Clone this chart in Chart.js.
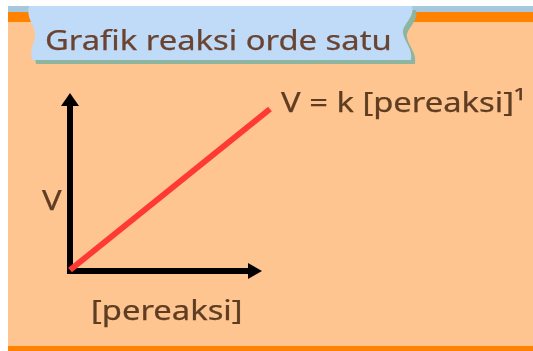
<!DOCTYPE html>
<html>
<head>
  <meta charset="UTF-8">
  <title>Grafik reaksi orde satu</title>
  <style>
    html, body { margin: 0; padding: 0; background: #fff; }
    canvas { display: block; }
  </style>
</head>
<body>
  <canvas id="rateChart" width="533" height="351"></canvas>

  <script src="https://cdn.jsdelivr.net/npm/chart.js@4"></script>
  <script>
    // Chart data: rate rises linearly with reactant concentration
    const concentration = [0, 10];
    const rate = [0, 10];

    const titleText = 'Grafik reaksi orde satu';
    const xLabel = '[pereaksi]';
    const yLabel = 'V';
    const equation = 'V = k [pereaksi]\u00B9';

    const FONT = '"Noto Sans", "Open Sans", sans-serif';
    const TEXT_COLOR = '#5e3d22';
    const STRETCH = 1.17; // text is a bit wider than normal

    function wideText(ctx, str, x, y, size, color) {
      ctx.save();
      ctx.font = size + 'px ' + FONT;
      ctx.fillStyle = color;
      ctx.strokeStyle = color;
      ctx.lineWidth = 0.25;
      ctx.textBaseline = 'alphabetic';
      ctx.textAlign = 'left';
      ctx.translate(x, y);
      ctx.scale(STRETCH, 1);
      ctx.fillText(str, 0, 0);
      ctx.strokeText(str, 0, 0);
      ctx.restore();
    }

    // banner with notched left/right edges
    function bannerPath(ctx, dx, dy) {
      ctx.beginPath();
      ctx.moveTo(29 + dx, 6 + dy);
      ctx.lineTo(412 + dx, 6 + dy);
      ctx.bezierCurveTo(415 + dx, 18 + dy, 402 + dx, 24 + dy, 403 + dx, 33 + dy);
      ctx.bezierCurveTo(404 + dx, 42 + dy, 413 + dx, 48 + dy, 411 + dx, 60 + dy);
      ctx.lineTo(32 + dx, 60 + dy);
      ctx.bezierCurveTo(29 + dx, 48 + dy, 36 + dx, 42 + dy, 35 + dx, 33 + dy);
      ctx.bezierCurveTo(34 + dx, 24 + dy, 26 + dx, 18 + dy, 29 + dx, 6 + dy);
      ctx.closePath();
    }

    const decorPlugin = {
      id: 'decor',
      beforeDraw(chart) {
        const ctx = chart.ctx;
        const w = chart.width, h = chart.height;
        ctx.save();
        ctx.fillStyle = '#ffffff';
        ctx.fillRect(0, 0, w, h);
        ctx.fillStyle = '#ffc590';
        ctx.fillRect(8, 6, w - 8, h - 6);
        ctx.fillStyle = '#a5c8df';
        ctx.fillRect(8, 6, w - 8, 6);
        ctx.fillStyle = '#ff8200';
        ctx.fillRect(8, 12, w - 8, 10);
        ctx.fillRect(8, 346, w - 8, 5);

        // title banner
        ctx.fillStyle = '#8db59f';
        bannerPath(ctx, 4, 4);
        ctx.fill();
        ctx.fillStyle = '#c0dbf8';
        bannerPath(ctx, 0, 0);
        ctx.fill();
        ctx.restore();

        wideText(ctx, titleText, 45, 50, 28, '#6a4431');
      },
      beforeDatasetsDraw(chart) {
        const ctx = chart.ctx;
        const a = chart.chartArea;
        const ox = a.left, oy = a.bottom + 1;
        ctx.save();
        ctx.strokeStyle = '#000';
        ctx.fillStyle = '#000';
        ctx.lineWidth = 6;
        ctx.lineCap = 'butt';

        // vertical axis
        ctx.beginPath();
        ctx.moveTo(ox, oy + 3);
        ctx.lineTo(ox, a.top - 4);
        ctx.stroke();
        ctx.beginPath();
        ctx.moveTo(ox, a.top - 16);
        ctx.lineTo(ox - 9, a.top - 3);
        ctx.lineTo(ox + 9, a.top - 3);
        ctx.closePath();
        ctx.fill();

        // horizontal axis
        ctx.beginPath();
        ctx.moveTo(ox - 3, oy);
        ctx.lineTo(a.right - 20, oy);
        ctx.stroke();
        ctx.beginPath();
        ctx.moveTo(a.right - 8, oy);
        ctx.lineTo(a.right - 22, oy - 8);
        ctx.lineTo(a.right - 22, oy + 8);
        ctx.closePath();
        ctx.fill();
        ctx.restore();
      },
      afterDraw(chart) {
        const ctx = chart.ctx;
        wideText(ctx, yLabel, 42, 210, 28, TEXT_COLOR);
        wideText(ctx, xLabel, 91, 320, 28, TEXT_COLOR);
        wideText(ctx, equation, 281, 112, 28, TEXT_COLOR);
      }
    };

    new Chart(document.getElementById('rateChart'), {
      type: 'scatter',
      data: {
        datasets: [{
          data: concentration.map((c, i) => ({ x: c, y: rate[i] })),
          showLine: true,
          borderColor: '#ff3a34',
          borderWidth: 6,
          borderCapStyle: 'butt',
          pointRadius: 0,
          clip: false
        }]
      },
      options: {
        responsive: false,
        animation: false,
        devicePixelRatio: 1,
        layout: {
          padding: { left: 70, right: 263, top: 109, bottom: 81 }
        },
        scales: {
          x: { type: 'linear', min: 0, max: 10, display: false },
          y: { type: 'linear', min: 0, max: 10, display: false }
        },
        plugins: {
          legend: { display: false },
          tooltip: { enabled: false },
          title: { display: false }
        }
      },
      plugins: [decorPlugin]
    });
  </script>
</body>
</html>
